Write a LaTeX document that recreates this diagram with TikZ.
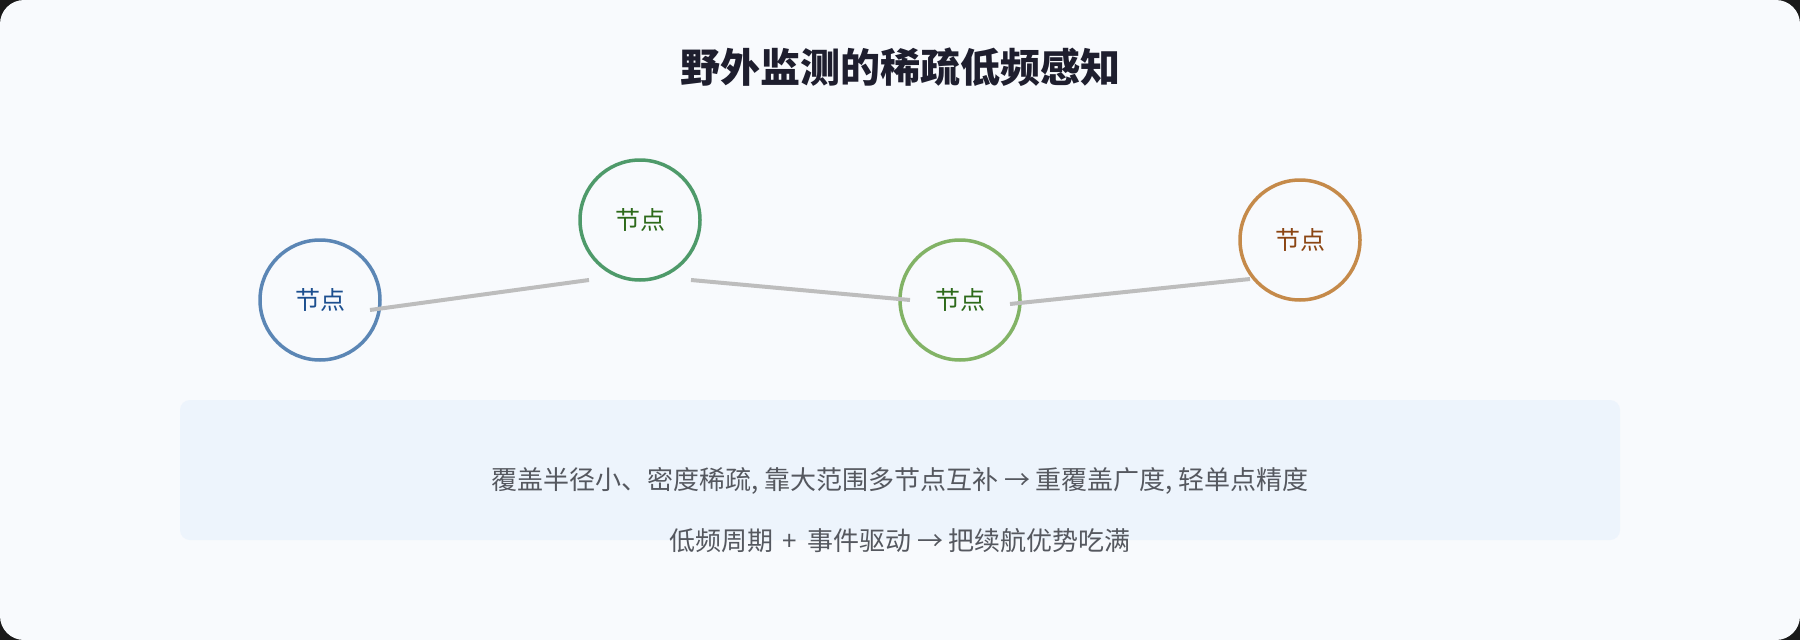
\documentclass[tikz,border=0pt]{standalone}
\usepackage{fontspec}
\setmainfont{Noto Sans CJK SC}
\definecolor{pagebg}{HTML}{F8FAFD}
\definecolor{notebg}{HTML}{EDF4FC}
\definecolor{titleink}{HTML}{1E1E2E}
\definecolor{noteink}{HTML}{55585F}
\definecolor{linkgray}{HTML}{BDBDBD}
\definecolor{blueline}{HTML}{5B86B5}
\definecolor{bluetext}{HTML}{1C4F8F}
\definecolor{greenline}{HTML}{4E9A6A}
\definecolor{limeline}{HTML}{82B366}
\definecolor{greentext}{HTML}{2D6A1A}
\definecolor{orangeline}{HTML}{C58A4A}
\definecolor{orangetext}{HTML}{8B4513}

\begin{document}
\begin{tikzpicture}[x=1pt,y=-1pt,
    sensor/.style={circle,minimum size=120pt,inner sep=0pt,line width=3.5pt,
      fill=pagebg,font=\fontsize{25}{29}\selectfont},
    link/.style={draw=linkgray,line width=4pt},
    note/.style={text=noteink,font=\fontsize{26}{30}\selectfont}]
  \useasboundingbox (0,0) rectangle (1800,640);
  \fill[black!90] (0,0) rectangle (1800,640);
  \fill[pagebg,rounded corners=24pt] (0,0) rectangle (1800,640);

  \node[text=titleink,font=\fontsize{40}{46}\selectfont\bfseries] (title) at (900,67) {野外监测的稀疏低频感知};

  \node[sensor,draw=blueline,text=bluetext] (nodeA) at (320,300) {节点};
  \node[sensor,draw=greenline,text=greentext] (nodeB) at (640,220) {节点};
  \node[sensor,draw=limeline,text=greentext] (nodeC) at (960,300) {节点};
  \node[sensor,draw=orangeline,text=orangetext] (nodeD) at (1300,240) {节点};

  \draw[link] ([shift={(50,10)}]nodeA.center) -- ([shift={(-51,60)}]nodeB.center);
  \draw[link] ([shift={(51,60)}]nodeB.center) -- ([shift={(-50,0)}]nodeC.center);
  \draw[link] ([shift={(50,4)}]nodeC.center) -- ([shift={(-50,39)}]nodeD.center);

  \fill[notebg,rounded corners=10pt] (180,400) rectangle (1620,540);
  \node[note] (lineA) at (900,481) {覆盖半径小、密度稀疏, 靠大范围多节点互补 → 重覆盖广度, 轻单点精度};
  \node[note] (lineB) at (900,541) {低频周期\hspace{4pt} + \hspace{4pt}事件驱动 → 把续航优势吃满};
\end{tikzpicture}
\end{document}
